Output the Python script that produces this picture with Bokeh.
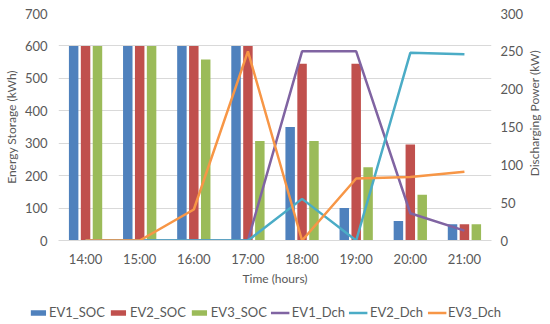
import math
from bokeh.plotting import figure
from bokeh.layouts import row, column
from bokeh.models import (Range1d, LinearAxis, FactorRange, ColumnDataSource, Legend, LegendItem,
                          SingleIntervalTicker, Label)
from bokeh.transform import dodge
from bokeh.embed import file_html
from bokeh.resources import INLINE

hours = ["14:00", "15:00", "16:00", "17:00", "18:00", "19:00", "20:00", "21:00"]
ev1_soc = [600, 600, 600, 600, 350, 100, 60, 50]
ev2_soc = [600, 600, 600, 600, 545, 545, 296, 50]
ev3_soc = [600, 600, 558, 307, 307, 226, 141, 50]
ev1_dch = [0, 0, 0, 0, 250, 250, 36, 13]
ev2_dch = [0, 0, 0, 0, 55, 0, 248, 246]
ev3_dch = [0, 0, 41, 250, 0, 82, 84, 91]
series_names = ["EV1_SOC", "EV2_SOC", "EV3_SOC", "EV1_Dch", "EV2_Dch", "EV3_Dch"]
colors = ["#4F81BD", "#C0504D", "#9BBB59", "#8064A2", "#4BACC6", "#F79646"]

src = ColumnDataSource(dict(hours=hours, ev1_soc=ev1_soc, ev2_soc=ev2_soc, ev3_soc=ev3_soc,
                            ev1_dch=ev1_dch, ev2_dch=ev2_dch, ev3_dch=ev3_dch))

FONT = "Lato"
GRAY = "#595959"

p = figure(x_range=FactorRange(*hours, range_padding=0), y_range=Range1d(0, 700),
           frame_width=433, frame_height=227, output_backend="svg", toolbar_location=None,
           min_border_left=40, min_border_right=30, min_border_top=13, min_border_bottom=48)
p.outline_line_color = None
p.extra_y_ranges = {"pw": Range1d(0, 300)}

bw = 0.175
offs = [-0.22, 0.0, 0.22]
for col, off, c in zip(["ev1_soc", "ev2_soc", "ev3_soc"], offs, colors[:3]):
    p.vbar(x=dodge("hours", off, range=p.x_range), top=col, width=bw, source=src,
           fill_color=c, line_color=None)
for col, c in zip(["ev1_dch", "ev2_dch", "ev3_dch"], colors[3:]):
    p.line(x="hours", y=col, source=src, y_range_name="pw", line_color=c, line_width=2.5)

ax_r = LinearAxis(y_range_name="pw", ticker=SingleIntervalTicker(interval=50))
p.add_layout(ax_r, "right")
p.yaxis[0].ticker = SingleIntervalTicker(interval=100)

for ax in p.yaxis:
    ax.axis_line_color = None
    ax.major_tick_line_color = None
    ax.minor_tick_line_color = None
    ax.major_label_text_font = FONT
    ax.major_label_text_font_size = "13px"
    ax.major_label_text_color = GRAY
    ax.major_label_standoff = 5
    ax.axis_label_standoff = 3
    ax.axis_label_text_font = FONT
    ax.axis_label_text_font_size = "12px"
    ax.axis_label_text_font_style = "normal"
    ax.axis_label_text_color = GRAY
p.yaxis[0].axis_label = "Energy Storage (kWh)"
ax_r.major_label_standoff = 3

xa = p.xaxis[0]
xa.axis_label = "Time (hours)"
xa.axis_line_color = "#D9D9D9"
xa.major_tick_line_color = None
xa.minor_tick_line_color = None
xa.major_label_text_font = FONT
xa.major_label_text_font_size = "13px"
xa.major_label_text_color = GRAY
xa.major_label_standoff = 4
xa.axis_label_standoff = 1
xa.axis_label_text_font = FONT
xa.axis_label_text_font_size = "12px"
xa.axis_label_text_font_style = "normal"
xa.axis_label_text_color = GRAY

p.xgrid.grid_line_color = None
p.ygrid.grid_line_color = "#D9D9D9"

# right-hand axis title (reads bottom to top)
pr = figure(width=16, height=288, x_range=Range1d(0, 16), y_range=Range1d(0, 288),
            output_backend="svg", toolbar_location=None, x_axis_type=None, y_axis_type=None,
            min_border=0)
pr.outline_line_color = None
pr.grid.visible = False
pr.add_layout(Label(x=8, y=288 - 126.5, text="Discharging Power (kW)", angle=math.pi / 2,
                    text_align="center", text_baseline="middle", text_font=FONT,
                    text_font_size="12px", text_color=GRAY))

# legend strip (proxy renderers draw nothing: zero-height bar, single-point line)
pl = figure(width=529, height=36, x_range=Range1d(0, 1), y_range=Range1d(0, 1),
            output_backend="svg", toolbar_location=None, x_axis_type=None, y_axis_type=None,
            min_border=0)
pl.outline_line_color = None
pl.grid.visible = False
items = []
for i, (name, c) in enumerate(zip(series_names, colors)):
    if i < 3:
        r = pl.vbar(x=[0.5], top=[0], bottom=[0], width=0.01, fill_color=c, line_color=None)
    else:
        r = pl.line(x=[0.5], y=[0], line_color=c, line_width=2.5)
    items.append(LegendItem(label=name, renderers=[r]))
legend = Legend(items=items, orientation="horizontal", location="bottom_center")
legend.label_text_font = FONT
legend.label_text_font_size = "13px"
legend.label_text_color = GRAY
legend.label_height = 14
legend.glyph_width = 19
legend.glyph_height = 7
legend.label_standoff = 2
legend.spacing = 4
legend.padding = 2
legend.margin = 4
legend.border_line_color = None
legend.background_fill_alpha = 0
pl.add_layout(legend)

layout = column(row(p, pr), pl)
open("out.html", "w").write(file_html(layout, INLINE))
